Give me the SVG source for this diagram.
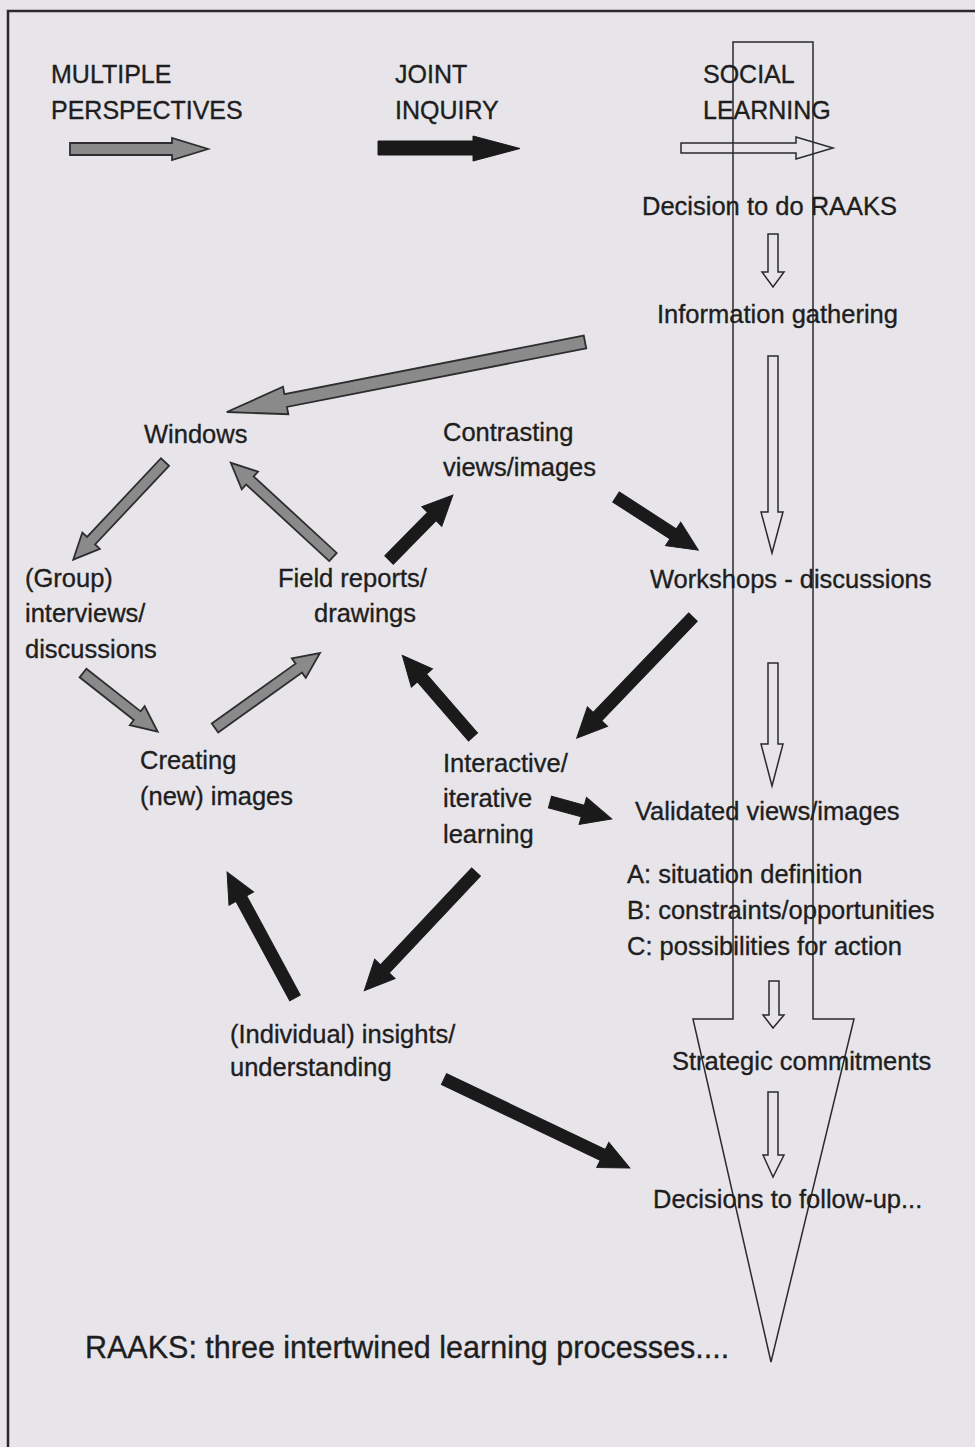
<svg xmlns="http://www.w3.org/2000/svg" width="975" height="1447" viewBox="0 0 975 1447">
<style>
text{font-family:"Liberation Sans",Arial,sans-serif;font-size:25.5px;fill:#1e1e1e;stroke:#1e1e1e;stroke-width:0.35}
.hd{font-size:25px}
.big{font-size:30.5px}
.blk{fill:#1a1a1a;stroke:#1a1a1a;stroke-width:1;stroke-linejoin:miter}
.gry{fill:#8a8a8a;stroke:#2e2e2e;stroke-width:1.8;stroke-linejoin:miter}
.hol{fill:none;stroke:#2a2a2a;stroke-width:1.5}
.frame{fill:none;stroke:#2a2a2a;stroke-width:2.5}
</style>
<rect x="0" y="0" width="975" height="1447" fill="#e8e5ea"/>
<path class="frame" d="M975,11 H8 V1447"/>

<g id="social-learning-track">
<path class="hol" d="M733,42 H813 V1019 H854 L771,1362 L693,1019 H733 Z"/>
</g>

<g id="headers">
<g id="multiple-perspectives"><text class="hd" x="51" y="83">MULTIPLE</text><text class="hd" x="51" y="119">PERSPECTIVES</text></g>
<g id="joint-inquiry"><text class="hd" x="395" y="83">JOINT</text><text class="hd" x="395" y="119">INQUIRY</text></g>
<g id="social-learning"><text class="hd" x="703" y="83">SOCIAL</text><text class="hd" x="703" y="119">LEARNING</text></g>
</g>

<g id="n-decision"><text x="642" y="215">Decision to do RAAKS</text></g>
<g id="n-information"><text x="657" y="323">Information gathering</text></g>
<g id="n-windows"><text x="144" y="443">Windows</text></g>
<g id="n-contrasting"><text x="443" y="441">Contrasting</text><text x="443" y="476">views/images</text></g>
<g id="n-group"><text x="25" y="587">(Group)</text><text x="25" y="622">interviews/</text><text x="25" y="658">discussions</text></g>
<g id="n-field"><text x="278" y="587">Field reports/</text><text x="314" y="622">drawings</text></g>
<g id="n-workshops"><text x="650" y="588">Workshops - discussions</text></g>
<g id="n-creating"><text x="140" y="769">Creating</text><text x="140" y="805">(new) images</text></g>
<g id="n-interactive"><text x="443" y="772">Interactive/</text><text x="443" y="807">iterative</text><text x="443" y="843">learning</text></g>
<g id="n-validated"><text x="635" y="820">Validated views/images</text><text x="627" y="883">A: situation definition</text><text x="627" y="919">B: constraints/opportunities</text><text x="627" y="955">C: possibilities for action</text></g>
<g id="n-individual"><text x="230" y="1043">(Individual) insights/</text><text x="230" y="1076">understanding</text></g>
<g id="n-strategic"><text x="672" y="1070">Strategic commitments</text></g>
<g id="n-decisions"><text x="653" y="1208">Decisions to follow-up...</text></g>
<g id="caption"><text class="big" x="85" y="1358">RAAKS: three intertwined learning processes....</text></g>

<g id="connectors">
<polygon class="gry" points="70,143 172,143 172,138 208,149 172,160 172,155 70,155"/>
<polygon class="blk" points="378,141 473,141 473,136 520,148.5 473,161 473,155 378,155"/>
<polygon class="hol" points="681,143 796,143 796,137 833,148 796,159 796,153 681,153"/>

<path class="hol" d="M768,234 H778 V272 H784 L773,287 L762,272 H768 Z"/>
<path class="hol" d="M768,356 H778 V512 H783 L772,553 L761,512 H768 Z"/>
<path class="hol" d="M768,663 H778 V744 H783 L772,786 L761,744 H768 Z"/>
<path class="hol" d="M769,981 H779 V1015 H784 L773,1028 L763,1015 H769 Z"/>
<path class="hol" d="M768,1092 H778 V1155 H784 L773,1177 L763,1155 H768 Z"/>

<polygon class="gry" transform="translate(585 342) rotate(168.94)" points="0,-6.5 305,-6.5 305,-14 365,0 305,14 305,6.5 0,6.5"/>
<polygon class="gry" transform="translate(165 462) rotate(133.2)" points="0,-5.5 108,-5.5 108,-12 134,0 108,12 108,5.5 0,5.5"/>
<polygon class="gry" transform="translate(333 557) rotate(-137.34)" points="0,-5.5 113,-5.5 113,-12 139,0 113,12 113,5.5 0,5.5"/>
<polygon class="gry" transform="translate(83 673) rotate(38.19)" points="0,-5.5 69,-5.5 69,-12 95,0 69,12 69,5.5 0,5.5"/>
<polygon class="gry" transform="translate(215 728) rotate(-35.54)" points="0,-5.5 103,-5.5 103,-12 129,0 103,12 103,5.5 0,5.5"/>

<polygon class="blk" transform="translate(389 560) rotate(-45.44)" points="0,-6 61,-6 61,-14 91,0 61,14 61,6 0,6"/>
<polygon class="blk" transform="translate(616 497) rotate(32.88)" points="0,-6 68,-6 68,-14 98,0 68,14 68,6 0,6"/>
<polygon class="blk" transform="translate(693 617) rotate(133.8)" points="0,-6 138,-6 138,-14 168,0 138,14 138,6 0,6"/>
<polygon class="blk" transform="translate(473 737) rotate(-130.89)" points="0,-6 78,-6 78,-14 108,0 78,14 78,6 0,6"/>
<polygon class="blk" transform="translate(550 802) rotate(15.33)" points="0,-6 34,-6 34,-14 64,0 34,14 34,6 0,6"/>
<polygon class="blk" transform="translate(476 872) rotate(133.26)" points="0,-6 133,-6 133,-14 163,0 133,14 133,6 0,6"/>
<polygon class="blk" transform="translate(295 998) rotate(-118.36)" points="0,-6 113,-6 113,-14 143,0 113,14 113,6 0,6"/>
<polygon class="blk" transform="translate(444 1079) rotate(25.57)" points="0,-6 176,-6 176,-14 206,0 176,14 176,6 0,6"/>
</g>
</svg>
